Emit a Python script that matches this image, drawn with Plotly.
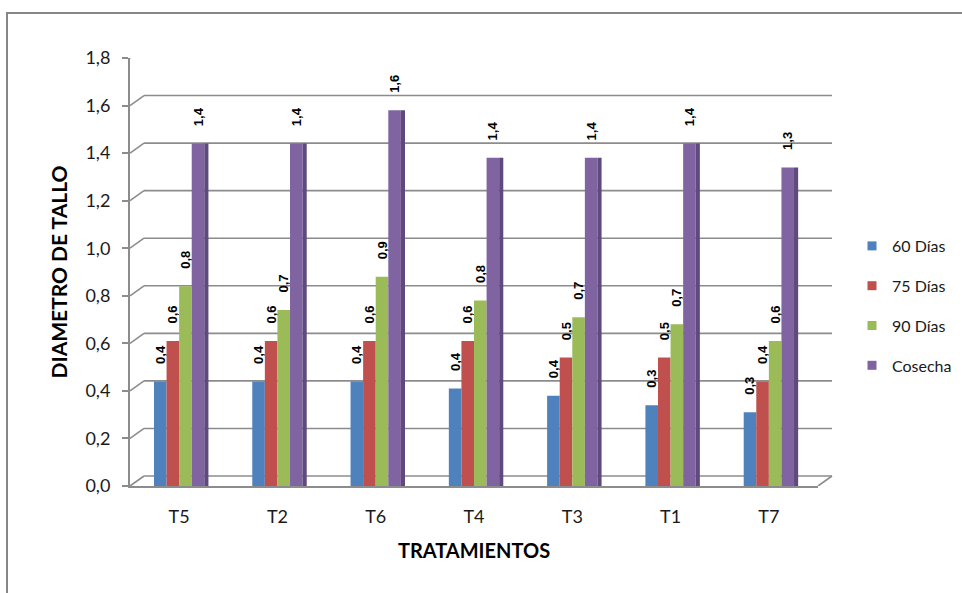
import plotly.graph_objects as go

CATEGORIES = ["T5", "T2", "T6", "T4", "T3", "T1", "T7"]
SERIES_NAMES = ["60 Días", "75 Días", "90 Días", "Cosecha"]
DIAS_60 = [0.44, 0.44, 0.44, 0.41, 0.38, 0.34, 0.31]
DIAS_75 = [0.61, 0.61, 0.61, 0.61, 0.54, 0.54, 0.44]
DIAS_90 = [0.84, 0.74, 0.88, 0.78, 0.71, 0.68, 0.61]
COSECHA = [1.44, 1.44, 1.58, 1.38, 1.38, 1.44, 1.34]
SERIES_VALUES = [DIAS_60, DIAS_75, DIAS_90, COSECHA]
COLORS = ["#4F81BD", "#C0504D", "#9BBB59", "#8064A2"]
SIDE_COLOR = "#5E4A7D"
Y_TICKS = [0.0, 0.2, 0.4, 0.6, 0.8, 1.0, 1.2, 1.4, 1.6, 1.8]

W, H = 962, 593
ML, MR, MT, MB = 130, 144, 58, 107
PW = W - ML - MR
PH = H - MT - MB
DX, DY = 14, 10  # back-wall offset in pixels
GRID = "#8C8C8C"
FONT = "Lato"
BAR_W = 0.128

fig = go.Figure()

for i, (name, vals, col) in enumerate(zip(SERIES_NAMES, SERIES_VALUES, COLORS)):
    fig.add_trace(go.Bar(
        x=CATEGORIES, y=vals, name=name,
        width=BAR_W, offset=-2 * BAR_W + i * BAR_W,
        marker=dict(color=col, line=dict(width=0)),
        texttemplate="\u00a0\u00a0\u00a0\u00a0%{y:.1f}",
        textposition="outside", textangle=-90,
        textfont=dict(family="Liberation Sans", size=13, color="#000000", weight="bold"),
        constraintext="none", cliponaxis=False, showlegend=False,
    ))

# right side face of the last series (3D look)
fig.add_trace(go.Bar(
    x=CATEGORIES, y=COSECHA, width=0.042, offset=2 * BAR_W,
    marker=dict(color=SIDE_COLOR, line=dict(width=0)),
    showlegend=False, hoverinfo="skip",
))

# legend entries
for name, col in zip(SERIES_NAMES, COLORS):
    fig.add_trace(go.Scatter(
        x=[None], y=[None], mode="markers", name=name, legendgroup=name,
        marker=dict(symbol="square", size=9, color=col),
    ))

shapes = []
dxp = DX / PW
for v in Y_TICKS:
    shapes.append(dict(type="line", layer="below", xref="paper", yref="y",
                       x0=dxp, x1=1 + dxp, ysizemode="pixel", yanchor=v, y0=DY, y1=DY,
                       line=dict(color=GRID, width=1.6)))
    shapes.append(dict(type="line", layer="below", xref="paper", yref="y",
                       xsizemode="pixel", xanchor=0, x0=0, x1=DX,
                       ysizemode="pixel", yanchor=v, y0=0, y1=DY,
                       line=dict(color=GRID, width=1.6)))
# floor right edge
shapes.append(dict(type="line", layer="below", xref="paper", yref="y",
                   xsizemode="pixel", xanchor=1, x0=0, x1=DX,
                   ysizemode="pixel", yanchor=0, y0=0, y1=DY,
                   line=dict(color=GRID, width=1.6)))
# outer chart border
shapes.append(dict(type="rect", xref="paper", yref="paper",
                   x0=(7 - ML) / PW, x1=(W + 20 - ML) / PW,
                   y0=-(H + 20 - (MT + PH)) / PH, y1=1 + (MT - 13) / PH,
                   line=dict(color="#868686", width=2), fillcolor="rgba(0,0,0,0)"))

fig.update_layout(
    width=W, height=H,
    margin=dict(l=ML, r=MR, t=MT, b=MB, autoexpand=False),
    paper_bgcolor="white", plot_bgcolor="rgba(0,0,0,0)",
    barmode="overlay",
    separators=",.",
    font=dict(family=FONT, color="#1a1a1a"),
    shapes=shapes,
    showlegend=True,
    legend=dict(x=(852 - ML) / PW, xanchor="left", y=(MT + PH - 306) / PH, yanchor="middle",
                font=dict(family=FONT, size=16, color="#1a1a1a"),
                tracegroupgap=16, itemwidth=30, bgcolor="rgba(0,0,0,0)"),
    xaxis=dict(showline=True, linecolor=GRID, linewidth=2, ticks="", showgrid=False,
               tickfont=dict(family=FONT, size=18, color="#1a1a1a"),
               ticklabelstandoff=13, automargin=False,
               title=dict(text="TRATAMIENTOS", font=dict(family=FONT, size=20, color="#000000", weight="bold"),
                          standoff=18)),
    yaxis=dict(range=[0, 1.8], tickvals=Y_TICKS, tickformat=".1f", showgrid=False, zeroline=False,
               showline=True, linecolor=GRID, linewidth=2,
               ticks="outside", ticklen=6, tickcolor=GRID, tickwidth=1.6,
               ticklabelstandoff=8, automargin=False,
               tickfont=dict(family=FONT, size=18, color="#1a1a1a"),
               title=dict(text="DIAMETRO DE TALLO", font=dict(family=FONT, size=21, color="#000000", weight="bold"),
                          standoff=12)),
)

fig.write_html("out.html")
